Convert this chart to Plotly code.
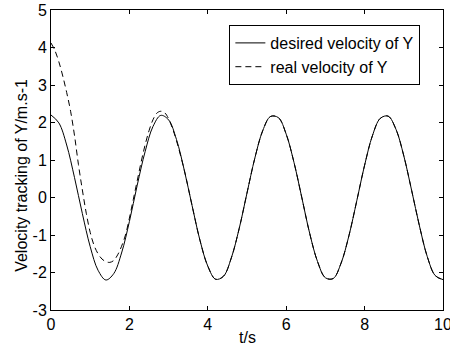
import plotly.graph_objects as go

# time samples (s)
t_desired = [0.0, 0.2, 0.4, 0.6, 0.8, 1.0, 1.2, 1.4, 1.6, 1.8,
             2.0, 2.2, 2.4, 2.6, 2.8, 3.0, 3.2, 3.4, 3.6, 3.8,
             4.0, 4.2, 4.4, 4.6, 4.8, 5.0, 5.2, 5.4, 5.6, 5.8,
             6.0, 6.2, 6.4, 6.6, 6.8, 7.0, 7.2, 7.4, 7.6, 7.8,
             8.0, 8.2, 8.4, 8.6, 8.8, 9.0, 9.2, 9.4, 9.6, 9.8, 10.0]
v_desired = [2.20, 1.99, 1.40, 0.53, -0.43, -1.31, -1.94, -2.20, -2.03, -1.48,
             -0.64, 0.33, 1.22, 1.89, 2.19, 2.07, 1.55, 0.73, -0.22, -1.14,
             -1.83, -2.18, -2.10, -1.61, -0.83, 0.12, 1.05, 1.78, 2.16, 2.13,
             1.69, 0.93, -0.01, -0.96, -1.71, -2.14, -2.16, -1.75, -1.02, -0.09,
             0.86, 1.65, 2.11, 2.17, 1.82, 1.11, 0.19, -0.76, -1.58, -2.08, -2.19]

t_real = [0.0, 0.1, 0.2, 0.3, 0.4, 0.5, 0.6, 0.7, 0.8, 0.9,
          1.0, 1.1, 1.2, 1.3, 1.4, 1.5, 1.6, 1.7, 1.8, 1.9,
          2.0, 2.1, 2.2, 2.3, 2.4, 2.5, 2.6, 2.7, 2.8, 2.9,
          3.0, 3.1, 3.2, 3.4, 3.6, 3.8,
          4.0, 4.2, 4.4, 4.6, 4.8, 5.0, 5.2, 5.4, 5.6, 5.8,
          6.0, 6.2, 6.4, 6.6, 6.8, 7.0, 7.2, 7.4, 7.6, 7.8,
          8.0, 8.2, 8.4, 8.6, 8.8, 9.0, 9.2, 9.4, 9.6, 9.8, 10.0]
v_real = [4.12, 3.92, 3.62, 3.24, 2.80, 2.30, 1.65, 0.88, 0.20, -0.42,
          -0.93, -1.28, -1.50, -1.64, -1.71, -1.73, -1.68, -1.53, -1.30, -1.00,
          -0.55, -0.05, 0.45, 0.95, 1.40, 1.78, 2.07, 2.25, 2.30, 2.26,
          2.10, 1.84, 1.52, 0.73, -0.22, -1.14,
          -1.83, -2.18, -2.10, -1.61, -0.83, 0.12, 1.05, 1.78, 2.16, 2.13,
          1.69, 0.93, -0.01, -0.96, -1.71, -2.14, -2.16, -1.75, -1.02, -0.09,
          0.86, 1.65, 2.11, 2.17, 1.82, 1.11, 0.19, -0.76, -1.58, -2.08, -2.19]

x_ticks = [0, 2, 4, 6, 8, 10]
y_ticks = [-3, -2, -1, 0, 1, 2, 3, 4, 5]

x_title = "t/s"
y_title = "Velocity tracking of Y/m.s-1"

FONT = "Liberation Sans, Arial, sans-serif"
FS = 16

fig = go.Figure()
fig.add_trace(go.Scatter(x=t_desired, y=v_desired, mode="lines",
                         name="desired velocity of Y",
                         line=dict(color="black", width=1, shape="spline", smoothing=1.0)))
fig.add_trace(go.Scatter(x=t_real, y=v_real, mode="lines",
                         name="real velocity of Y",
                         line=dict(color="black", width=1, dash="6px,4px", shape="spline", smoothing=1.0)))

axis_common = dict(showgrid=False, zeroline=False, showline=True, linecolor="black",
                   linewidth=1, mirror="ticks", ticks="inside", ticklen=4,
                   tickcolor="black", ticklabeloverflow="allow", automargin=False,
                   tickfont=dict(family=FONT, size=FS, color="black"))

fig.update_layout(
    width=450, height=348,
    margin=dict(l=51, r=7, t=10, b=38, autoexpand=False),
    paper_bgcolor="white", plot_bgcolor="white",
    font=dict(family=FONT, size=FS, color="black"),
    xaxis=dict(range=[0, 10], tickvals=x_ticks, ticktext=[str(v) for v in x_ticks],
               **axis_common),
    yaxis=dict(range=[-3, 5], tickvals=y_ticks, ticktext=[str(v) for v in y_ticks],
               **axis_common),
    legend=dict(x=0.455, y=0.95, xanchor="left", yanchor="top",
                bordercolor="black", borderwidth=1, bgcolor="white",
                font=dict(family=FONT, size=FS), tracegroupgap=0,
                itemwidth=30),
    showlegend=True,
    annotations=[
        dict(text=x_title, xref="paper", yref="paper", x=0.5, y=-0.09,
             xanchor="center", yanchor="middle", showarrow=False,
             font=dict(family=FONT, size=FS)),
        dict(text=y_title, xref="paper", yref="paper", x=-0.077, y=0.45,
             xanchor="center", yanchor="middle", textangle=-90, showarrow=False,
             font=dict(family=FONT, size=FS)),
    ],
)

fig.write_html("out.html", config={"displayModeBar": False},
               post_script="document.body.style.margin='0';")
